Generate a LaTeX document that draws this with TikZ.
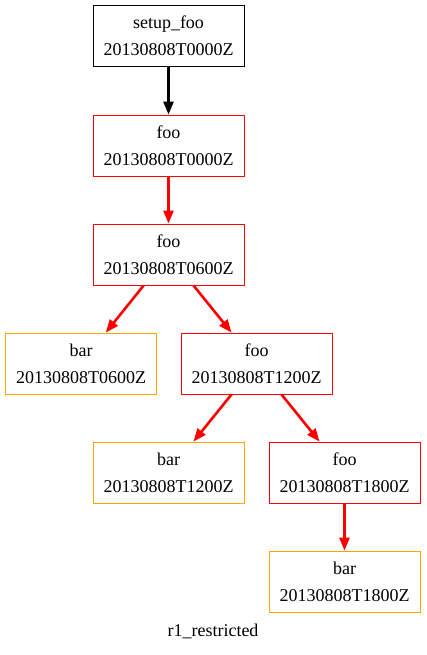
\documentclass[tikz,border=0pt]{standalone}
\usepackage{fontspec}
\setmainfont{Liberation Serif}
\usetikzlibrary{arrows.meta}
\definecolor{gvorange}{HTML}{FFA500}
\definecolor{gvred}{HTML}{FF0000}
\begin{document}
\begin{tikzpicture}[x=1pt,y=-1pt,
  job/.style={draw, rectangle, minimum width=151pt, minimum height=61pt, inner sep=0pt,
    align=center, line width=0.8pt, font=\fontsize{18}{27}\selectfont},
  setupjob/.style={job, draw=black},
  foojob/.style={job, draw=gvred},
  barjob/.style={job, draw=gvorange},
  dep/.style={line width=2.6pt, -{Triangle[length=13pt, width=10pt]}},
  blackdep/.style={dep, draw=black},
  reddep/.style={dep, draw=gvred, fill=gvred},
]
\useasboundingbox (0,0) rectangle (427,655);
\node[setupjob] (s0) at (168.5,36) {setup\_foo\\20130808T0000Z};
\node[foojob] (f0) at (168.5,145.5) {foo\\20130808T0000Z};
\node[foojob] (f6) at (168.5,254.5) {foo\\20130808T0600Z};
\node[barjob] (b6) at (81,363.5) {bar\\20130808T0600Z};
\node[foojob] (f12) at (256.5,363.5) {foo\\20130808T1200Z};
\node[barjob] (b12) at (168.5,472.5) {bar\\20130808T1200Z};
\node[foojob] (f18) at (344.5,472.5) {foo\\20130808T1800Z};
\node[barjob] (b18) at (344.5,581.5) {bar\\20130808T1800Z};
\node[font=\fontsize{18}{22}\selectfont] (lbl) at (213,631) {r1\_restricted};
\draw[blackdep] (s0) -- (f0);
\draw[reddep] (f0) -- (f6);
\draw[reddep] (f6) -- (b6);
\draw[reddep] (f6) -- (f12);
\draw[reddep] (f12) -- (b12);
\draw[reddep] (f12) -- (f18);
\draw[reddep] (f18) -- (b18);
\end{tikzpicture}
\end{document}
